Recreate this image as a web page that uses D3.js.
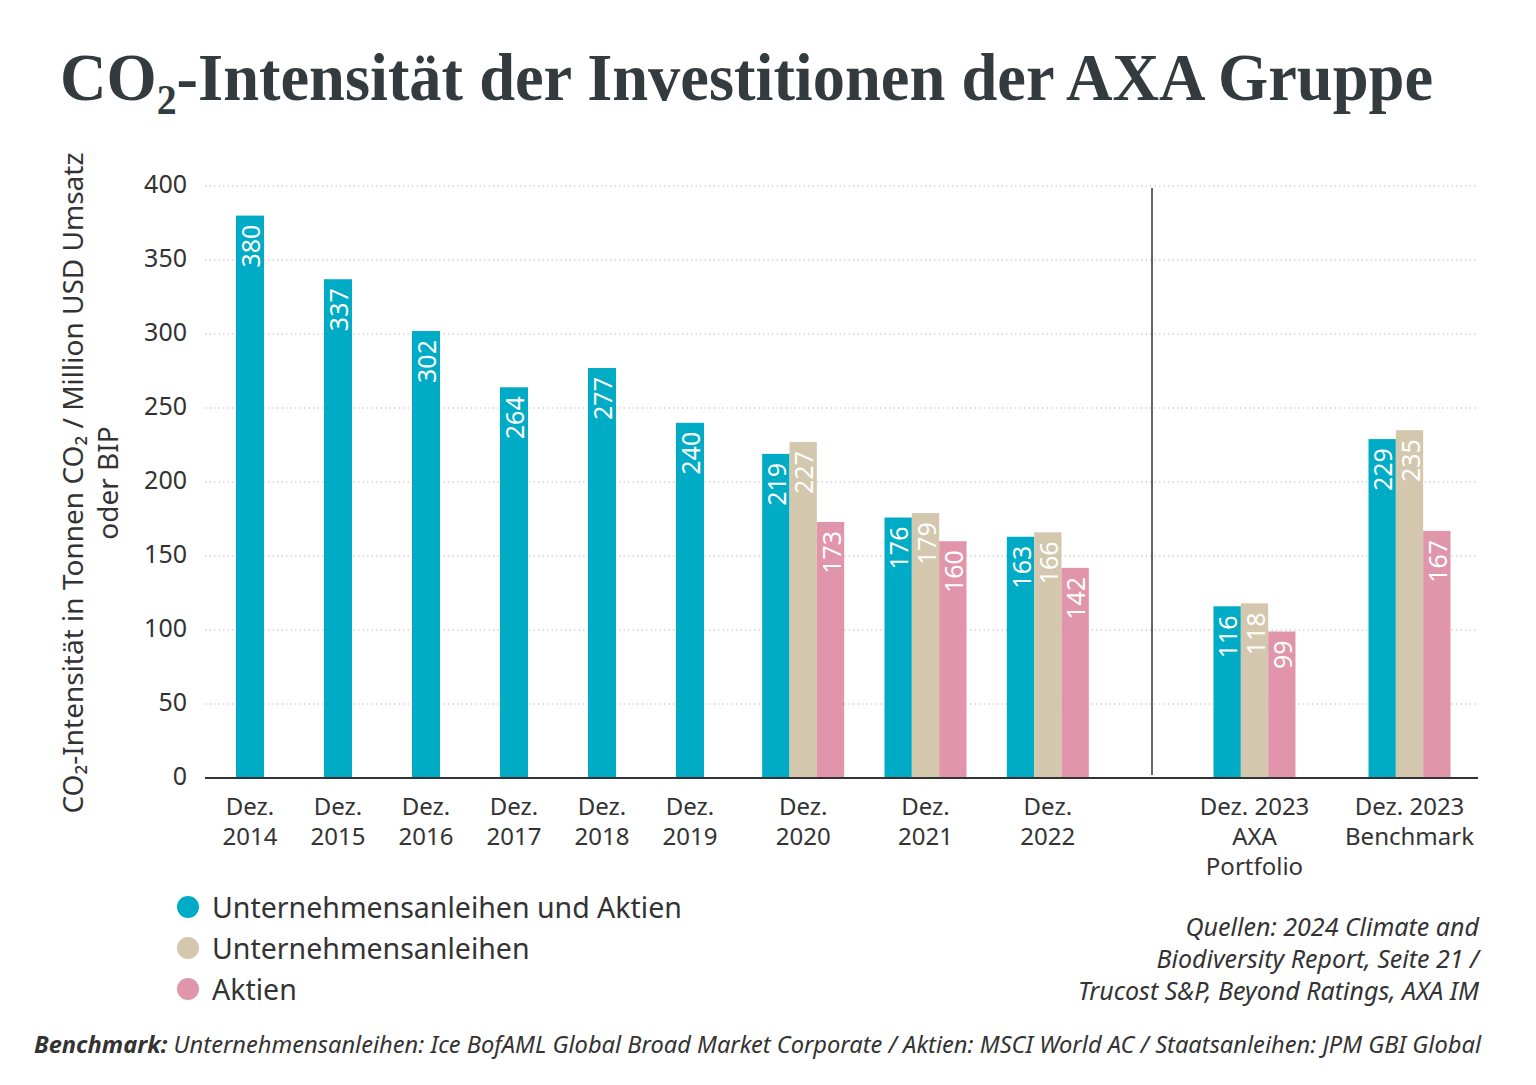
<!DOCTYPE html>
<html>
<head>
<meta charset="utf-8">
<script src="https://cdn.jsdelivr.net/npm/d3@7"></script>
<style>
body { margin: 0; background: #fff; }
text { font-family: "Noto Sans", sans-serif; fill: #333; }
</style>
</head>
<body>
<svg id="chart" width="1536" height="1085"></svg>
<script>
// categories and their label lines
var categories = ["2014", "2015", "2016", "2017", "2018", "2019", "2020", "2021", "2022", "2023 AXA", "2023 Benchmark"];
var catLabels = [["Dez.", "2014"], ["Dez.", "2015"], ["Dez.", "2016"], ["Dez.", "2017"], ["Dez.", "2018"], ["Dez.", "2019"],
    ["Dez.", "2020"], ["Dez.", "2021"], ["Dez.", "2022"], ["Dez. 2023", "AXA", "Portfolio"], ["Dez. 2023", "Benchmark"]];

// series values
var mixed = [380, 337, 302, 264, 277, 240, 219, 176, 163, 116, 229];
var bonds = [null, null, null, null, null, null, 227, 179, 166, 118, 235];
var equities = [null, null, null, null, null, null, 173, 160, 142, 99, 167];

var seriesNames = ["Unternehmensanleihen und Aktien", "Unternehmensanleihen", "Aktien"];
var seriesColors = ["#00abc5", "#d3c7ae", "#e195ab"];
var yTicks = [0, 50, 100, 150, 200, 250, 300, 350, 400];

var svg = d3.select("#chart");

// title
var title = svg.append("text")
    .attr("x", 60).attr("y", 100)
    .attr("textLength", 1373).attr("lengthAdjust", "spacingAndGlyphs")
    .style("font-family", "'Liberation Serif', 'DejaVu Serif', serif")
    .style("font-weight", "bold").style("font-size", "68px").style("fill", "#343b3e");
title.append("tspan").text("CO");
title.append("tspan").text("2").attr("dy", 14).style("font-size", "42px");
title.append("tspan").text("-Intensität der Investitionen der AXA Gruppe").attr("dy", -14);

var y = d3.scaleLinear().domain([0, 400]).range([778, 186]);

// x positions: three blocks of categories
var xSingle = d3.scaleBand().domain(categories.slice(0, 6)).range([206, 734]);
var xGroup = d3.scaleBand().domain(categories.slice(6, 9)).range([742, 1109]);
var xRight = d3.scaleBand().domain(categories.slice(9)).range([1177, 1487]);
function xc(c) {
    var s = xSingle.domain().indexOf(c) >= 0 ? xSingle : (xGroup.domain().indexOf(c) >= 0 ? xGroup : xRight);
    return s(c) + s.bandwidth() / 2;
}
var sub = d3.scaleBand().domain([0, 1, 2]).range([-41, 41]);

// grid
svg.append("g").selectAll("line").data(yTicks.slice(1)).join("line")
    .attr("x1", 205).attr("x2", 1478)
    .attr("y1", function (d) { return y(d); }).attr("y2", function (d) { return y(d); })
    .attr("stroke", "#bdbdbd").attr("stroke-width", 1.2).attr("stroke-dasharray", "1.5,3");

svg.append("g").selectAll("text").data(yTicks).join("text")
    .attr("x", 187).attr("y", function (d) { return y(d) - 3; })
    .attr("text-anchor", "end").attr("dominant-baseline", "central")
    .style("font-size", "25px").text(function (d) { return d; });

// bars
var bars = [];
categories.forEach(function (c, i) {
    var vals = [mixed[i], bonds[i], equities[i]];
    var n = vals.filter(function (v) { return v != null; }).length;
    vals.forEach(function (v, k) {
        if (v == null) return;
        var x0 = n == 1 ? xc(c) - 14 : xc(c) + sub(k);
        var w = n == 1 ? 28 : sub.bandwidth();
        bars.push({ x: x0, w: w, v: v, k: k });
    });
});

var bg = svg.append("g");
bg.selectAll("rect").data(bars).join("rect")
    .attr("x", function (d) { return d.x; }).attr("width", function (d) { return d.w; })
    .attr("y", function (d) { return y(d.v); }).attr("height", function (d) { return y(0) - y(d.v); })
    .attr("fill", function (d) { return seriesColors[d.k]; });

bg.selectAll("text").data(bars).join("text")
    .attr("transform", function (d) { return "translate(" + (d.x + d.w / 2) + "," + (y(d.v) + 9) + ") rotate(-90)"; })
    .attr("text-anchor", "end").attr("dominant-baseline", "central")
    .style("font-size", "25px").style("fill", "#fff")
    .text(function (d) { return d.v; });

// baseline and separator
svg.append("line").attr("x1", 205).attr("x2", 1478).attr("y1", y(0)).attr("y2", y(0))
    .attr("stroke", "#333").attr("stroke-width", 2);
svg.append("line").attr("x1", 1152).attr("x2", 1152).attr("y1", 188).attr("y2", 775)
    .attr("stroke", "#333").attr("stroke-width", 1.5);

// x labels
var xl = svg.append("g").selectAll("text").data(categories).join("text")
    .attr("text-anchor", "middle").style("font-size", "24px");
xl.each(function (c, i) {
    d3.select(this).selectAll("tspan").data(catLabels[i]).join("tspan")
        .attr("x", xc(c)).attr("y", function (d, j) { return 815 + j * 30; })
        .text(function (d) { return d; });
});

// y axis title
var yt = svg.append("text").attr("transform", "translate(73,483) rotate(-90)")
    .attr("text-anchor", "middle").style("font-size", "28px");
yt.append("tspan").attr("x", 0).attr("y", 10).text("CO₂-Intensität in Tonnen CO₂ / Million USD Umsatz");
yt.append("tspan").attr("x", 0).attr("y", 45).text("oder BIP");

// legend
var lg = svg.append("g").selectAll("g").data(seriesNames).join("g")
    .attr("transform", function (d, i) { return "translate(188," + (907 + i * 41) + ")"; });
lg.append("circle").attr("r", 11).attr("fill", function (d, i) { return seriesColors[i]; });
lg.append("text").attr("x", 24).attr("dominant-baseline", "central")
    .style("font-size", "28.5px").text(function (d) { return d; });

// sources
var sources = ["Quellen: 2024 Climate and", "Biodiversity Report, Seite 21 /", "Trucost S&P, Beyond Ratings, AXA IM"];
svg.append("g").selectAll("text").data(sources).join("text")
    .attr("x", 1479).attr("y", function (d, i) { return 936 + i * 32; })
    .attr("text-anchor", "end").style("font-size", "25px").style("font-style", "italic")
    .text(function (d) { return d; });

// footnote
var fn = svg.append("text").attr("x", 34).attr("y", 1053)
    .attr("textLength", 1447).attr("lengthAdjust", "spacingAndGlyphs")
    .style("font-size", "23px").style("font-style", "italic");
fn.append("tspan").style("font-weight", "bold").text("Benchmark:");
fn.append("tspan").text(" Unternehmensanleihen: Ice BofAML Global Broad Market Corporate / Aktien: MSCI World AC / Staatsanleihen: JPM GBI Global");
</script>
</body>
</html>
